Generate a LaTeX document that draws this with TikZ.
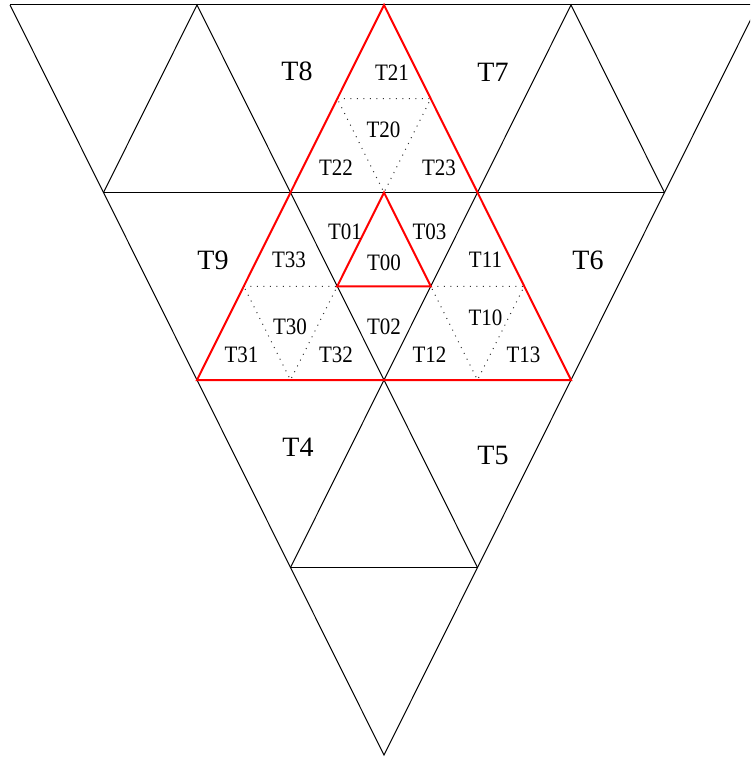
\documentclass[tikz,border=0pt]{standalone}
\usepackage{fontspec}
\setmainfont{Liberation Serif}
\usetikzlibrary{calc}
\begin{document}
\begin{tikzpicture}[x=1pt,y=-1pt,
  edge/.style={draw=black,line width=1pt},
  rededge/.style={draw=red,line width=2pt,line join=miter},
  dotedge/.style={draw=black!80,line width=1pt,dash pattern=on 1pt off 5.5pt},
  biglbl/.style={font=\fontsize{28}{30}\selectfont,inner sep=0pt},
  smalllbl/.style={font=\fontsize{21}{23}\selectfont,inner sep=0pt,yscale=1.12}]
\useasboundingbox (0,0) rectangle (750,757);
\clip (0,0) rectangle (750,757);
% vertices
\coordinate (A0) at (10,5);
\coordinate (A1) at (197,5);
\coordinate (A2) at (384,5);
\coordinate (A3) at (571,5);
\coordinate (A4) at (758,5);
\coordinate (B0) at (103.5,192.5);
\coordinate (B1) at (290.5,192.5);
\coordinate (B2) at (477.5,192.5);
\coordinate (B3) at (664.5,192.5);
\coordinate (C0) at (197,380);
\coordinate (C1) at (384,380);
\coordinate (C2) at (571,380);
\coordinate (D0) at (290.5,567.5);
\coordinate (D1) at (477.5,567.5);
\coordinate (E) at (384,755);
% midpoints
\coordinate (M1) at ($(A2)!0.5!(B1)$);
\coordinate (M2) at ($(A2)!0.5!(B2)$);
\coordinate (P0) at ($(B1)!0.5!(B2)$);
\coordinate (P1) at ($(B1)!0.5!(C1)$);
\coordinate (P2) at ($(B2)!0.5!(C1)$);
\coordinate (L1) at ($(B1)!0.5!(C0)$);
\coordinate (L2) at ($(C0)!0.5!(C1)$);
\coordinate (R1) at ($(B2)!0.5!(C2)$);
\coordinate (R2) at ($(C1)!0.5!(C2)$);
% black grid
\draw[edge] (A0) -- (A4);
\draw[edge] (A0) -- (E) -- (A4);
\draw[edge] (B0) -- (A1) -- (B1);
\draw[edge] (B2) -- (A3) -- (B3);
\draw[edge] (B0) -- (B3);
\draw[edge] (B1) -- (C1) -- (B2);
\draw[edge] (D0) -- (C1) -- (D1);
\draw[edge] (D0) -- (D1);
% dotted subdivisions
\draw[dotedge] (M1) -- (M2) -- (P0) -- cycle;
\draw[dotedge] (L1) -- (P1) -- (L2) -- cycle;
\draw[dotedge] (P2) -- (R1) -- (R2) -- cycle;
% red triangles
\draw[rededge] (A2) -- (C0) -- (C2) -- cycle;
\draw[rededge] (P0) -- (P1) -- (P2) -- cycle;
% big labels
\node[biglbl] (t8) at (297,71) {T8};
\node[biglbl] (t7) at (493,72) {T7};
\node[biglbl] (t9) at (213,260) {T9};
\node[biglbl] (t6) at (588,260) {T6};
\node[biglbl] (t4) at (298,447) {T4};
\node[biglbl] (t5) at (493,455) {T5};
% small labels
\node[smalllbl] (t21) at (392,73) {T21};
\node[smalllbl] (t20) at (383.5,129.5) {T20};
\node[smalllbl] (t22) at (336,168) {T22};
\node[smalllbl] (t23) at (439,168) {T23};
\node[smalllbl] (t01) at (345,232) {T01};
\node[smalllbl] (t03) at (429.5,232) {T03};
\node[smalllbl] (t00) at (384,263) {T00};
\node[smalllbl] (t33) at (289,260) {T33};
\node[smalllbl] (t11) at (485.5,260) {T11};
\node[smalllbl] (t30) at (290,327) {T30};
\node[smalllbl] (t02) at (384,327) {T02};
\node[smalllbl] (t10) at (485.5,317.5) {T10};
\node[smalllbl] (t31) at (241.5,354.5) {T31};
\node[smalllbl] (t32) at (336,354.5) {T32};
\node[smalllbl] (t12) at (429.5,354.5) {T12};
\node[smalllbl] (t13) at (523.5,354.5) {T13};
\end{tikzpicture}
\end{document}
